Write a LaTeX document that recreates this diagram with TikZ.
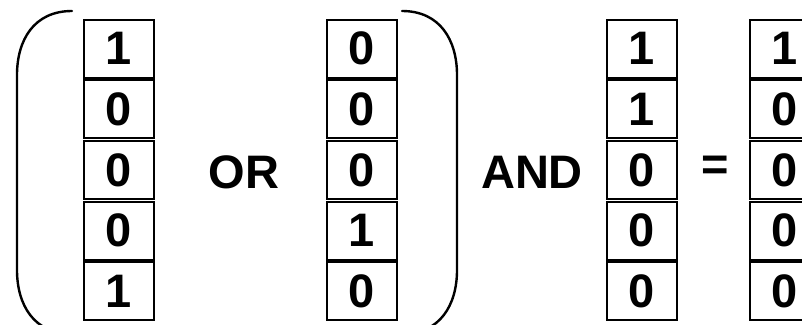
\documentclass[tikz,border=0pt]{standalone}
\usepackage{fontspec}
\setmainfont{Liberation Sans}
\begin{document}
\begin{tikzpicture}[x=1pt,y=-1pt,
  bitcell/.style={draw=black,line width=2pt,rectangle,minimum width=70pt,
    minimum height=58pt,inner sep=0pt,font=\fontsize{47}{47}\selectfont\bfseries},
  opword/.style={inner sep=0pt,font=\fontsize{47}{47}\selectfont\bfseries},
  paren/.style={line width=2.4pt,line cap=round}]
\useasboundingbox (0,0) rectangle (802,324);
\clip (0,0) rectangle (802,324);
% bit vectors: column name, left edge, bits top to bottom
\foreach \col/\xl/\bits in {a/84/{1,0,0,0,1}, b/327/{0,0,0,1,0}, c/607/{1,1,0,0,0}, d/750/{1,0,0,0,0}}{
  \foreach \b [count=\i] in \bits {
    \node[bitcell] (\col\i) at (\xl+35, 48.5+60.7*\i-60.7) {\raisebox{-2.5pt}{\b}};
  }
}
% operators
\node[opword] (or)  at (244,172) {OR};
\node[opword] (and) at (532,172) {AND};
\node[opword] (eq)  at (715,168) {=};
% grouping parentheses
\draw[paren] (72,11) .. controls (34,11) and (17,40) .. (17,75) -- (17,270)
  .. controls (17,305) and (34,334) .. (72,334);
\draw[paren] (402,11) .. controls (440,11) and (457,40) .. (457,75) -- (457,270)
  .. controls (457,305) and (440,334) .. (402,334);
\end{tikzpicture}
\end{document}
